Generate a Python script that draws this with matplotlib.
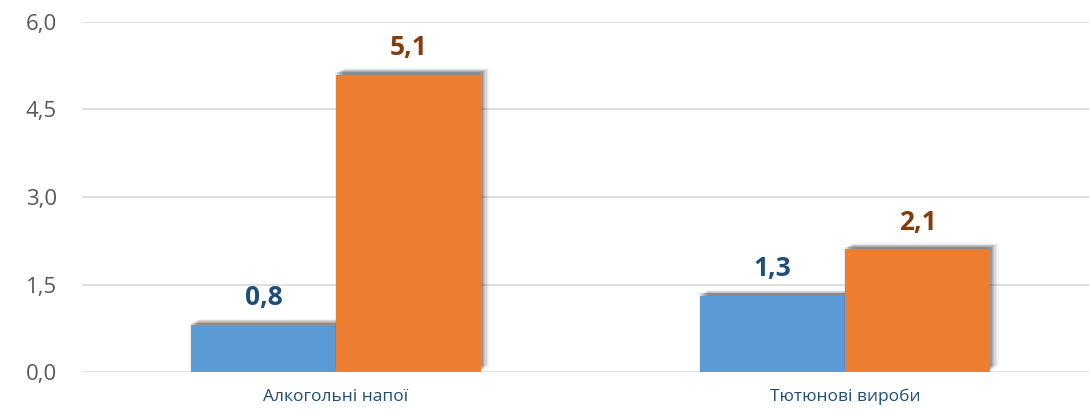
import numpy as np
import matplotlib
matplotlib.use("Agg")
import matplotlib.pyplot as plt
import matplotlib.patheffects as pe
from matplotlib.ticker import FuncFormatter

# =========================
# Data
# =========================
categories = ["Алкогольні напої", "Тютюнові вироби"]
series_a = [0.8, 1.3]
series_b = [5.1, 2.1]
yticks = [0.0, 1.5, 3.0, 4.5, 6.0]

# =========================
# Style
# =========================
BLUE = "#5B9BD5"
ORANGE = "#ED7D31"
BLUE_LBL = "#1F4E79"
ORANGE_LBL = "#843C0C"
GRID = "#D9D9D9"
TICK = "#595959"
plt.rcParams["font.family"] = ["Open Sans", "DejaVu Sans"]


def shadow_effects():
    # soft offset shadow built from a few stacked translucent copies
    fx = []
    for off, a in [((6, 4.5), 0.04), ((5, 4), 0.05), ((4, 3.5), 0.07),
                   ((3, 3), 0.09), ((2, 2.5), 0.11), ((1, 2), 0.12),
                   ((-1, 2), 0.08)]:
        fx.append(pe.SimplePatchShadow(offset=off, shadow_rgbFace="k", alpha=a))
    fx.append(pe.Normal())
    return fx


fig = plt.figure(figsize=(10.89, 4.11), dpi=100)
ax = fig.add_axes([82 / 1089, 39 / 411, 1 - 82 / 1089, 350 / 411])

x = np.arange(len(categories))
w = 0.285
bars_a = ax.bar(x - w / 2, series_a, w, color=BLUE, zorder=3)
bars_b = ax.bar(x + w / 2, series_b, w, color=ORANGE, zorder=3)
for b in list(bars_a) + list(bars_b):
    b.set_path_effects(shadow_effects())

for bars, vals, col in [(bars_a, series_a, BLUE_LBL), (bars_b, series_b, ORANGE_LBL)]:
    for b, v in zip(bars, vals):
        ax.annotate(f"{v:.1f}".replace(".", ","),
                    (b.get_x() + b.get_width() / 2, v),
                    xytext=(0, 10), textcoords="offset points",
                    ha="center", va="bottom", fontsize=19, fontweight="bold",
                    color=col)

ax.set_xlim(-0.499, 1.479)
ax.set_ylim(0, 6.0)
ax.set_yticks(yticks)
ax.yaxis.set_major_formatter(FuncFormatter(lambda v, p: f"{v:.1f}".replace(".", ",")))
ax.set_xticks(x)
ax.set_xticklabels(categories)
ax.tick_params(axis="y", length=0, pad=18, labelsize=16, labelcolor=TICK)
ax.tick_params(axis="x", length=0, pad=12, labelsize=12.5, labelcolor=BLUE_LBL)
ax.grid(axis="y", color=GRID, linewidth=1.2, zorder=0)
ax.set_axisbelow(True)
for s in ax.spines.values():
    s.set_visible(False)

fig.savefig("out.png", dpi=100)
